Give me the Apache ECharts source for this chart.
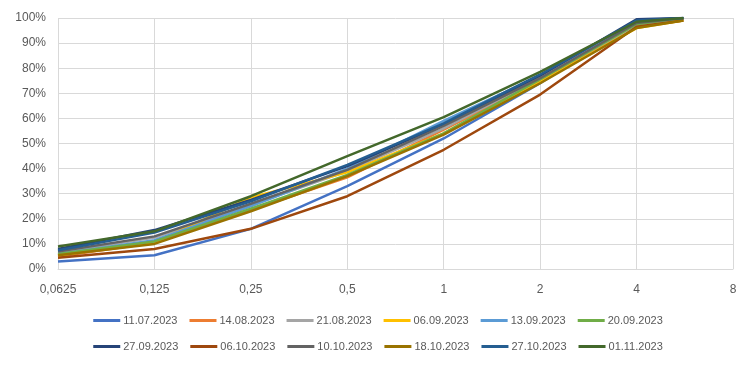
<!DOCTYPE html>
<html><head><meta charset="utf-8">
<script src="https://cdn.jsdelivr.net/npm/echarts@6/dist/echarts.min.js"></script>
<style>html,body{margin:0;padding:0;background:#fff}#c{width:756px;height:366px}</style>
</head><body><div id="c"></div>
<script>
const sizes = [0.0625, 0.125, 0.25, 0.5, 1, 2, 4, 5.6];
const xTicks = ["0,0625", "0,125", "0,25", "0,5", "1", "2", "4", "8"];
const yTicks = ["0%","10%","20%","30%","40%","50%","60%","70%","80%","90%","100%"];
const names = ["11.07.2023","14.08.2023","21.08.2023","06.09.2023","13.09.2023","20.09.2023",
               "27.09.2023","06.10.2023","10.10.2023","18.10.2023","27.10.2023","01.11.2023"];
const colors = ["#4472C4","#ED7D31","#A5A5A5","#FFC000","#5B9BD5","#70AD47",
                "#264478","#9E480E","#636363","#997300","#255E91","#43682B"];
const s1107 = [3.0, 5.5, 16.0, 33.0, 52.0, 74.0, 98.0, 100];
const s1408 = [5.0, 10.5, 23.5, 36.5, 55.5, 75.0, 97.0, 99.5];
const s2108 = [6.5, 12.5, 25.5, 39.0, 56.0, 76.0, 97.0, 100];
const s0609 = [5.5, 10.5, 28.5, 38.5, 54.0, 74.5, 96.0, 99];
const s1309 = [6.0, 11.5, 25.0, 40.0, 59.0, 77.0, 98.5, 100];
const s2009 = [6.0, 11.0, 24.0, 37.5, 54.0, 75.5, 97.5, 100];
const s2709 = [8.0, 15.5, 27.5, 41.0, 57.5, 77.0, 99.5, 100];
const s0610 = [4.5, 8.0, 16.0, 29.0, 47.5, 69.5, 96.5, 99];
const s1010 = [7.0, 13.0, 26.0, 39.5, 57.0, 76.0, 98.0, 100];
const s1810 = [5.5, 10.0, 23.0, 37.0, 53.5, 74.0, 96.0, 99];
const s2710 = [7.5, 14.5, 27.0, 41.5, 58.0, 77.5, 99.0, 100];
const s0111 = [9.0, 15.0, 29.0, 45.0, 60.5, 78.5, 98.5, 100];
const allSeries = [s1107,s1408,s2108,s0609,s1309,s2009,s2709,s0610,s1010,s1810,s2710,s0111];

const chart = echarts.init(document.getElementById('c'), null, {renderer:'canvas'});
const font = "'Liberation Sans', Arial, sans-serif";
const tickMap = {};
[0.0625,0.125,0.25,0.5,1,2,4,8].forEach((v,i)=>tickMap[v]=xTicks[i]);
const legendCommon = {
  left: 'center', itemWidth: 27, itemHeight: 3, itemGap: 12, icon: 'rect',
  textStyle: {color:'#595959', fontSize: 11, fontFamily: font, padding:[0,0,0,-2]}
};
chart.setOption({
  animation: false,
  backgroundColor: '#fff',
  color: colors,
  grid: {left: 58, right: 23, top: 18, bottom: 97},
  legend: [
    Object.assign({top: 310, data: names.slice(0,6)}, legendCommon),
    Object.assign({top: 336, data: names.slice(6)}, legendCommon)
  ],
  xAxis: {
    type: 'log', logBase: 2, min: 0.0625, max: 8,
    axisLine: {show: true, lineStyle: {color: '#d9d9d9', width: 1}},
    axisTick: {show: false},
    splitLine: {show: true, lineStyle: {color: '#d9d9d9', width: 1}},
    minorTick: {show:false},
    axisLabel: {color:'#595959', fontSize: 12, fontFamily: font, margin: 15,
      formatter: v => { const k = +(+v).toPrecision(6); return tickMap[k] !== undefined ? tickMap[k] : String(k).replace('.', ','); }}
  },
  yAxis: {
    type: 'value', min: 0, max: 100, interval: 10,
    axisLine: {show: false}, axisTick: {show:false},
    splitLine: {show: true, lineStyle: {color: '#d9d9d9', width: 1}},
    axisLabel: {color:'#595959', fontSize: 12, fontFamily: font, margin: 12,
      formatter: v => yTicks[Math.round(v/10)]}
  },
  series: names.map((n,i)=>({
    name: n, type: 'line', showSymbol: false, symbol: 'none',
    lineStyle: {width: 2.5, color: colors[i]}, itemStyle: {color: colors[i]},
    data: sizes.map((x,j)=>[x, allSeries[i][j]])
  }))
});
</script></body></html>
